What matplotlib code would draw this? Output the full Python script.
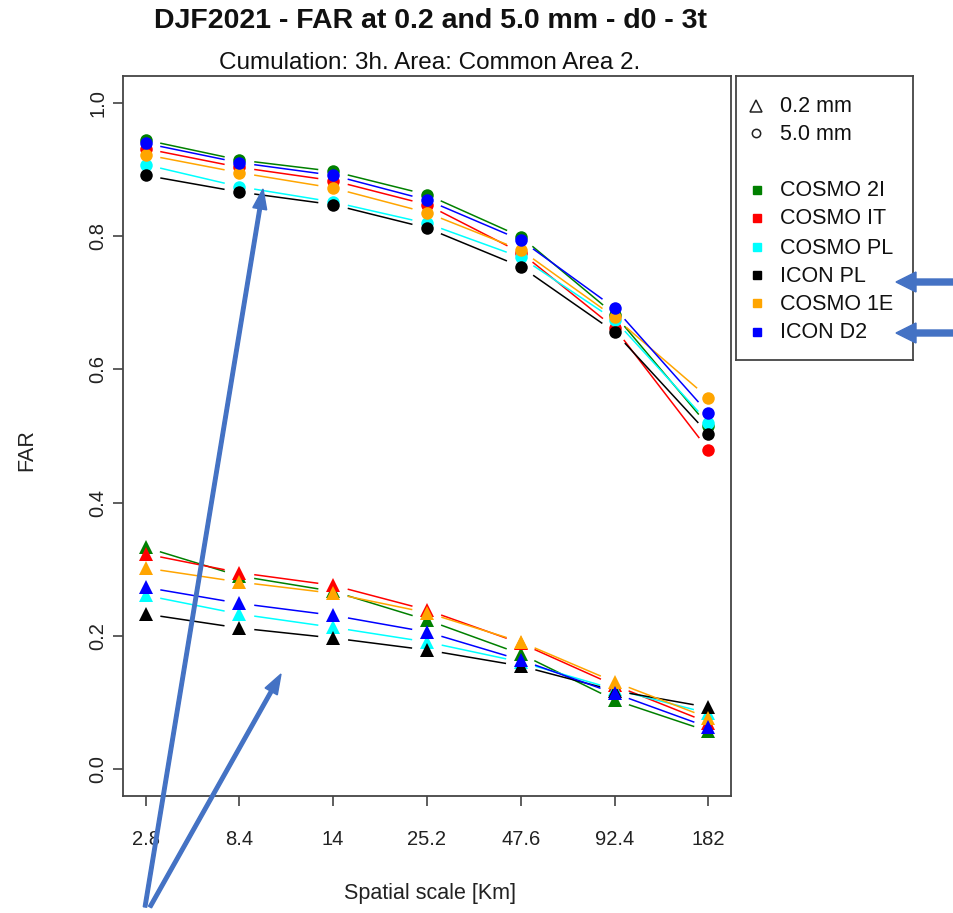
import numpy as np
import matplotlib
matplotlib.use("Agg")
import matplotlib.pyplot as plt
from matplotlib.patches import FancyArrow
from matplotlib.transforms import IdentityTransform

plt.rcParams['font.family'] = ['Liberation Sans', 'DejaVu Sans']

# ---- data -------------------------------------------------------------
scales = ["2.8", "8.4", "14", "25.2", "47.6", "92.4", "182"]
models = ["COSMO 2I", "COSMO IT", "COSMO PL", "ICON PL", "COSMO 1E", "ICON D2"]
colors = ["green", "red", "cyan", "black", "orange", "blue"]

# FAR at 5.0 mm threshold (circles)
far_50 = {
    "COSMO 2I": [0.944, 0.914, 0.897, 0.862, 0.799, 0.682, 0.515],
    "COSMO IT": [0.931, 0.903, 0.883, 0.847, 0.775, 0.662, 0.479],
    "COSMO PL": [0.907, 0.874, 0.851, 0.819, 0.768, 0.674, 0.520],
    "ICON PL":  [0.891, 0.866, 0.847, 0.812, 0.754, 0.656, 0.503],
    "COSMO 1E": [0.922, 0.895, 0.872, 0.835, 0.779, 0.678, 0.557],
    "ICON D2":  [0.939, 0.910, 0.891, 0.854, 0.794, 0.692, 0.534],
}
# FAR at 0.2 mm threshold (triangles)
far_02 = {
    "COSMO 2I": [0.333, 0.290, 0.267, 0.224, 0.173, 0.104, 0.057],
    "COSMO IT": [0.323, 0.295, 0.276, 0.239, 0.189, 0.126, 0.070],
    "COSMO PL": [0.261, 0.233, 0.213, 0.191, 0.161, 0.120, 0.084],
    "ICON PL":  [0.233, 0.212, 0.197, 0.179, 0.155, 0.118, 0.093],
    "COSMO 1E": [0.302, 0.281, 0.264, 0.235, 0.191, 0.131, 0.077],
    "ICON D2":  [0.273, 0.249, 0.231, 0.206, 0.164, 0.114, 0.063],
}

W, H = 954, 913
fig = plt.figure(figsize=(W / 100, H / 100), dpi=100)


def fx(px):
    return px / W


def fy(py):
    return 1 - py / H


ax_l, ax_r, ax_t, ax_b = 123, 731, 76, 796
ax = fig.add_axes([fx(ax_l), fy(ax_b), fx(ax_r) - fx(ax_l), fy(ax_t) - fy(ax_b)])
xs = np.arange(1, len(scales) + 1)
ax.set_xlim(0.76, 7.24)
ax.set_ylim(-0.04, 1.04)

GAP = 15.0  # pixel gap left between a point and its connecting segment


def draw_b(x, y, color, marker):
    """Points joined by segments that stop short of each point."""
    pts = ax.transData.transform(np.column_stack([x, y]))
    inv = ax.transData.inverted()
    for i in range(len(pts) - 1):
        p0, p1 = pts[i], pts[i + 1]
        d = p1 - p0
        L = np.hypot(*d)
        if L <= 2 * GAP:
            continue
        u = d / L
        a = inv.transform(p0 + u * GAP)
        b = inv.transform(p1 - u * GAP)
        ax.plot([a[0], b[0]], [a[1], b[1]], color=color, lw=1.1,
                solid_capstyle="butt", zorder=2)
    ax.plot(x, y, linestyle="none", marker=marker, color=color,
            markersize=9 if marker == "o" else 9.5, markeredgewidth=0,
            zorder=3)


for m, c in zip(models, colors):
    draw_b(xs, far_50[m], c, "o")
for m, c in zip(models, colors):
    draw_b(xs, far_02[m], c, "^")

ax.set_xticks(xs)
ax.set_xticklabels(scales, fontsize=14.5)
ax.set_yticks([0.0, 0.2, 0.4, 0.6, 0.8, 1.0])
ax.set_yticklabels(["0.0", "0.2", "0.4", "0.6", "0.8", "1.0"], fontsize=14.5,
                   rotation=90, va="center")
ax.tick_params(axis="both", direction="out", length=7.5, width=1.1,
               color="#333333", labelcolor="#222222")
ax.tick_params(axis="x", pad=17)
ax.tick_params(axis="y", pad=4)
for s in ax.spines.values():
    s.set_color("#444444")
    s.set_linewidth(1.3)

fig.text(fx(431), fy(21), "DJF2021 - FAR at 0.2 and 5.0 mm - d0 - 3t",
         ha="center", va="center", fontsize=20.5, fontweight="bold",
         color="#111111")
fig.text(fx(430), fy(63), "Cumulation: 3h. Area: Common Area 2.",
         ha="center", va="center", fontsize=17.5, color="#111111")
fig.text(fx(430), fy(893), "Spatial scale [Km]", ha="center", va="center",
         fontsize=15.5, color="#222222")
fig.text(fx(27), fy(450), "FAR", ha="center", va="center", rotation=90,
         fontsize=15.5, color="#222222")

# ---- legend box ---------------------------------------------------------
lg_l, lg_r, lg_t, lg_b = 736, 913, 76, 360
lax = fig.add_axes([fx(lg_l), fy(lg_b), fx(lg_r) - fx(lg_l), fy(lg_t) - fy(lg_b)])
lax.set_xlim(0, lg_r - lg_l)
lax.set_ylim(lg_b - lg_t, 0)
lax.set_xticks([])
lax.set_yticks([])
for s in lax.spines.values():
    s.set_color("#444444")
    s.set_linewidth(1.3)

legend_fs = 15.5
lax.plot([20], [30], marker="^", markersize=9, markerfacecolor="none",
         markeredgecolor="#222222", markeredgewidth=1.1, linestyle="none")
lax.text(44, 31, "0.2 mm", va="center", ha="left", fontsize=legend_fs,
         color="#111111")
lax.plot([20], [57], marker="o", markersize=6, markerfacecolor="none",
         markeredgecolor="#222222", markeredgewidth=1.1, linestyle="none")
lax.text(44, 58, "5.0 mm", va="center", ha="left", fontsize=legend_fs,
         color="#111111")
row_y = [114, 142, 171, 199, 227, 256]
for m, c, yy in zip(models, colors, row_y):
    lax.plot([21], [yy], marker="s", markersize=6, color=c, linestyle="none")
    lax.text(44, yy + 1, m, va="center", ha="left", fontsize=legend_fs,
             color="#111111")

# ---- annotation arrows (display pixels) ----------------------------------
arrow_col = "#4472C4"
for (x0, y0, x1, y1, w, hw, hl) in [
    (145, 907, 263, 189, 3.5, 14, 20),
    (150, 907, 281, 674, 3.5, 14, 20),
    (956, 282, 896, 282, 6, 20, 20),
    (956, 333, 896, 333, 6, 20, 20),
]:
    arr = FancyArrow(x0, H - y0, x1 - x0, -(y1 - y0), width=w, head_width=hw,
                     head_length=hl, length_includes_head=True,
                     color=arrow_col, transform=IdentityTransform(),
                     zorder=10)
    arr.set_figure(fig)
    fig.artists.append(arr)

fig.savefig("out.png", dpi=100)
